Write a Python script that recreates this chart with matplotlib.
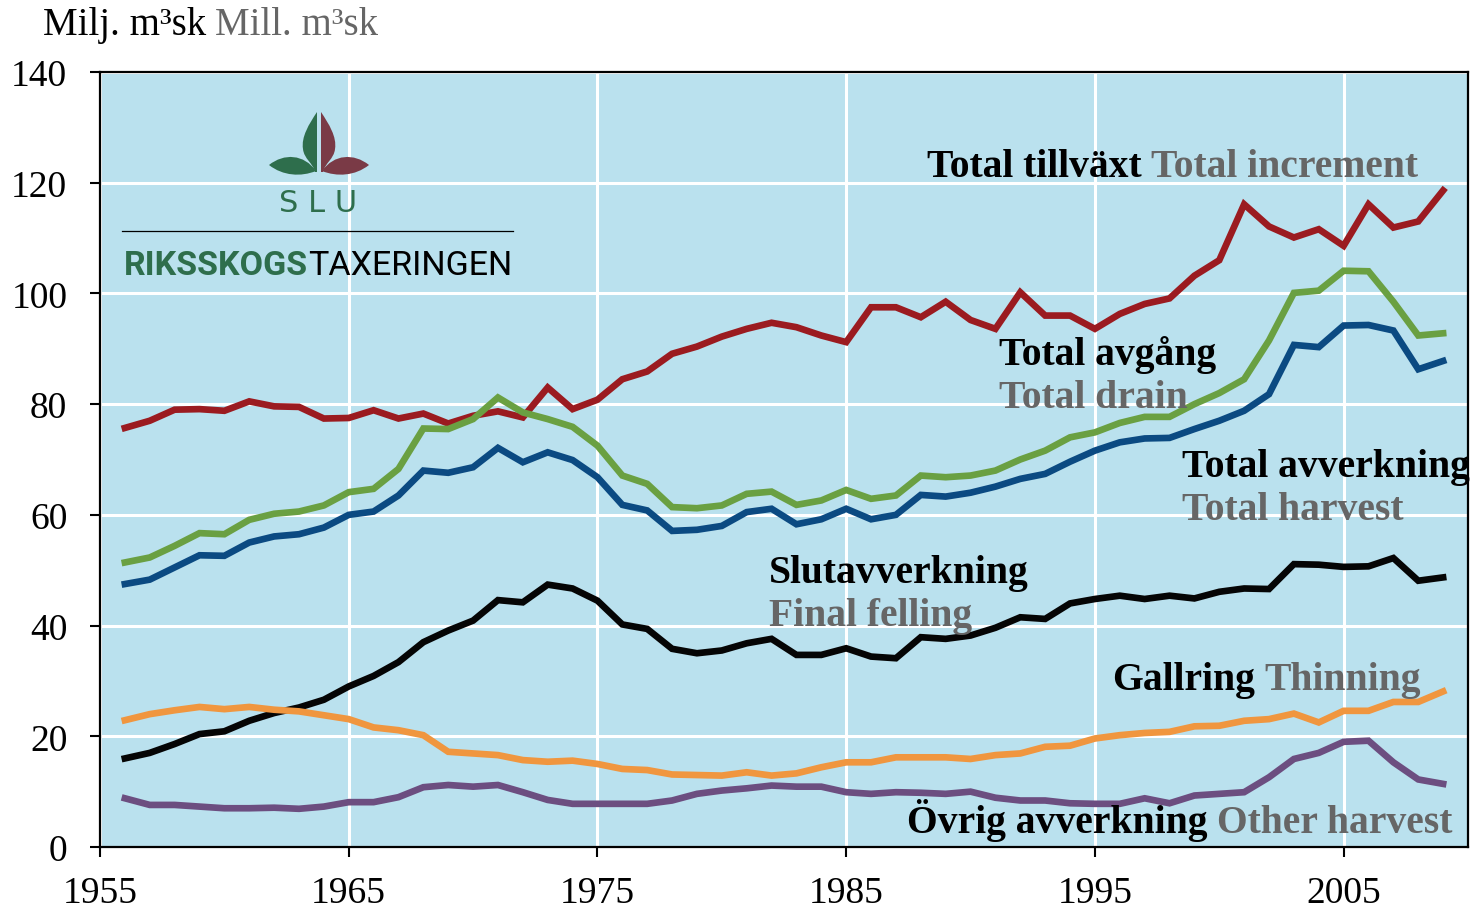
import matplotlib
matplotlib.use("Agg")
import matplotlib.pyplot as plt
from matplotlib.path import Path
from matplotlib.patches import PathPatch

years = list(range(1956, 2010))

tillvaxt = [75.7, 77.0, 79.0, 79.1, 78.8, 80.5, 79.6, 79.5, 77.4, 77.5,
            78.9, 77.4, 78.3, 76.5, 77.9, 78.7, 77.6, 83.0, 79.1, 80.8,
            84.5, 85.9, 89.1, 90.4, 92.2, 93.6, 94.7, 93.9, 92.4, 91.2,
            97.5, 97.5, 95.7, 98.5, 95.2, 93.6, 100.2, 96.0, 96.0, 93.6,
            96.3, 98.1, 99.1, 103.2, 106.0, 116.1, 112.1, 110.1, 111.6, 108.6,
            116.1, 111.9, 113.0, 118.6]
avgang = [51.4, 52.3, 54.4, 56.7, 56.5, 59.1, 60.2, 60.6, 61.7, 64.1,
          64.7, 68.3, 75.6, 75.5, 77.3, 81.2, 78.5, 77.3, 75.9, 72.5,
          67.1, 65.6, 61.4, 61.2, 61.7, 63.8, 64.2, 61.8, 62.6, 64.5,
          62.9, 63.5, 67.1, 66.8, 67.1, 68.0, 70.0, 71.6, 74.0, 74.9,
          76.6, 77.7, 77.7, 80.0, 82.0, 84.5, 91.5, 100.1, 100.5, 104.1,
          104.0, 98.5, 92.4, 92.8]
avverkning = [47.5, 48.3, 50.5, 52.7, 52.6, 55.0, 56.1, 56.5, 57.7, 60.0,
              60.6, 63.5, 68.0, 67.6, 68.6, 72.1, 69.5, 71.3, 69.9, 66.8,
              61.8, 60.8, 57.1, 57.3, 58.0, 60.5, 61.1, 58.3, 59.2, 61.1,
              59.2, 60.0, 63.6, 63.3, 64.0, 65.1, 66.5, 67.4, 69.6, 71.6,
              73.1, 73.8, 73.9, 75.5, 77.0, 78.8, 81.8, 90.7, 90.3, 94.2,
              94.3, 93.3, 86.3, 87.8]
slutavv = [16.0, 17.0, 18.6, 20.4, 20.9, 22.8, 24.2, 25.2, 26.6, 29.0,
           30.9, 33.4, 37.0, 39.1, 40.9, 44.6, 44.2, 47.4, 46.7, 44.5,
           40.2, 39.4, 35.8, 35.0, 35.5, 36.8, 37.6, 34.7, 34.7, 35.9,
           34.4, 34.1, 37.9, 37.6, 38.2, 39.6, 41.5, 41.2, 44.0, 44.8,
           45.4, 44.8, 45.4, 44.9, 46.1, 46.7, 46.6, 51.1, 51.0, 50.6,
           50.7, 52.2, 48.1, 48.7]
gallring = [22.9, 24.0, 24.7, 25.3, 24.9, 25.3, 24.8, 24.5, 23.8, 23.1,
            21.6, 21.1, 20.2, 17.2, 16.9, 16.6, 15.7, 15.4, 15.6, 15.0,
            14.1, 13.9, 13.1, 13.0, 12.9, 13.5, 12.9, 13.3, 14.4, 15.3,
            15.3, 16.2, 16.2, 16.2, 15.9, 16.6, 16.9, 18.1, 18.3, 19.6,
            20.2, 20.6, 20.8, 21.8, 21.9, 22.8, 23.1, 24.1, 22.5, 24.6,
            24.6, 26.2, 26.2, 28.1]
ovrig = [8.8, 7.6, 7.6, 7.3, 7.0, 7.0, 7.1, 6.9, 7.3, 8.1,
         8.1, 9.0, 10.8, 11.2, 10.9, 11.2, 9.9, 8.5, 7.8, 7.8,
         7.8, 7.8, 8.4, 9.6, 10.2, 10.6, 11.1, 10.9, 10.9, 9.9,
         9.6, 9.9, 9.8, 9.6, 10.0, 8.9, 8.4, 8.4, 7.9, 7.8,
         7.8, 8.8, 7.9, 9.3, 9.6, 9.9, 12.6, 15.9, 17.0, 19.0,
         19.2, 15.3, 12.2, 11.4]

series = [
    (tillvaxt, "#9B1B20"),
    (avgang, "#6AA042"),
    (avverkning, "#0B4A82"),
    (slutavv, "#050505"),
    (gallring, "#F0963F"),
    (ovrig, "#6C4E80"),
]

# (swedish, english, x, y, english on its own line?)
labels = [
    ("Total tillväxt", "Total increment", 1988.25, 121.2, False),
    ("Total avgång", "Total drain", 1991.15, 87.2, True),
    ("Total avverkning", "Total harvest", 1998.5, 67.0, True),
    ("Slutavverkning", "Final felling", 1981.9, 47.9, True),
    ("Gallring", "Thinning", 1995.7, 28.5, False),
    ("Övrig avverkning", "Other harvest", 1987.45, 2.7, False),
]

GREY = "#666666"
BG = "#BAE1EE"
LOGO_GREEN = "#2E6E4C"
LOGO_RED = "#7A3A46"
SERIF = ["Liberation Serif", "DejaVu Serif"]

plt.rcParams["font.family"] = SERIF
fig = plt.figure(figsize=(14.82, 9.12), dpi=100)
ax = fig.add_axes([100 / 1482, 64 / 912, 1368 / 1482, 775 / 912])
ax.set_facecolor(BG)

for vals, col in series:
    ax.plot(years, vals, color=col, lw=4.8, solid_joinstyle="miter", zorder=3)

ax.set_xlim(1955, 2010)
ax.set_ylim(0, 140)
ax.set_xticks(range(1955, 2010, 10))
ax.set_yticks(range(0, 141, 20))
ax.grid(True, color="white", lw=2.2, zorder=1)
ax.set_axisbelow(True)
ax.tick_params(direction="out", length=7.5, width=1.5, labelsize=27)
ax.tick_params(axis="x", pad=13)
ax.tick_params(axis="y", pad=16)
for sp in ax.spines.values():
    sp.set_linewidth(1.6)

fs = 28.5
for sv, en, x, y, two in labels:
    t = ax.text(x, y, sv, color="black", fontsize=fs, fontweight="bold",
                va="baseline", zorder=5)
    if two:
        ax.text(x, y - 7.8, en, color=GREY, fontsize=fs, fontweight="bold",
                va="baseline", zorder=5)
    else:
        ax.annotate(en, xy=(1, 0), xycoords=t, xytext=(9, 0),
                    textcoords="offset pixels", color=GREY, fontsize=fs,
                    fontweight="bold", va="bottom", ha="left", zorder=5)

# unit heading
t = fig.text(43 / 1482, 1 - 35 / 912, "Milj. m³sk", fontsize=28, color="black",
             va="baseline")
fig.canvas.draw()
bb = t.get_window_extent()
fig.text((bb.x1 + 9) / 1482, bb.y0 / 912, "Mill. m³sk", fontsize=28,
         color=GREY, va="bottom")

# SLU / Riksskogstaxeringen logo, drawn in pixel coordinates
lax = fig.add_axes([0, 0, 1, 1], zorder=10)
lax.set_xlim(0, 1482)
lax.set_ylim(912, 0)
lax.axis("off")


def leaf_paths(mirror):
    def m(p):
        return [(638 - x, y) if mirror else (x, y) for x, y in p]
    C, L, M = Path.CURVE4, Path.LINETO, Path.MOVETO
    up = m([(317, 113), (309, 125), (301, 138), (303, 150),
            (304, 160), (313, 164), (315, 173), (317, 173), (317, 113)])
    up_codes = [M, C, C, C, C, C, C, L, L]
    side = m([(269, 166), (284, 154), (304, 155), (316, 172),
              (301, 178), (283, 177), (269, 166)])
    side_codes = [M, C, C, C, C, C, C]
    return Path(up, up_codes), Path(side, side_codes)


for mirror, col in ((False, LOGO_GREEN), (True, LOGO_RED)):
    for p in leaf_paths(mirror):
        lax.add_patch(PathPatch(p, facecolor=col, edgecolor="none"))

lax.text(318, 212, "S L U", color=LOGO_GREEN, fontsize=22, ha="center",
         va="baseline", family="DejaVu Sans")
lax.plot([122, 513], [232, 232], color="black", lw=0.9)
r = lax.text(124, 275, "RIKSSKOGS", color=LOGO_GREEN, fontsize=24.5,
             fontweight="bold", va="baseline", family="Roboto")
lax.annotate("TAXERINGEN", xy=(1, 0), xycoords=r, xytext=(0, 0),
             textcoords="offset pixels", color="black", fontsize=24.5,
             va="bottom", ha="left", family="Roboto")

fig.savefig("out.png", dpi=100)
